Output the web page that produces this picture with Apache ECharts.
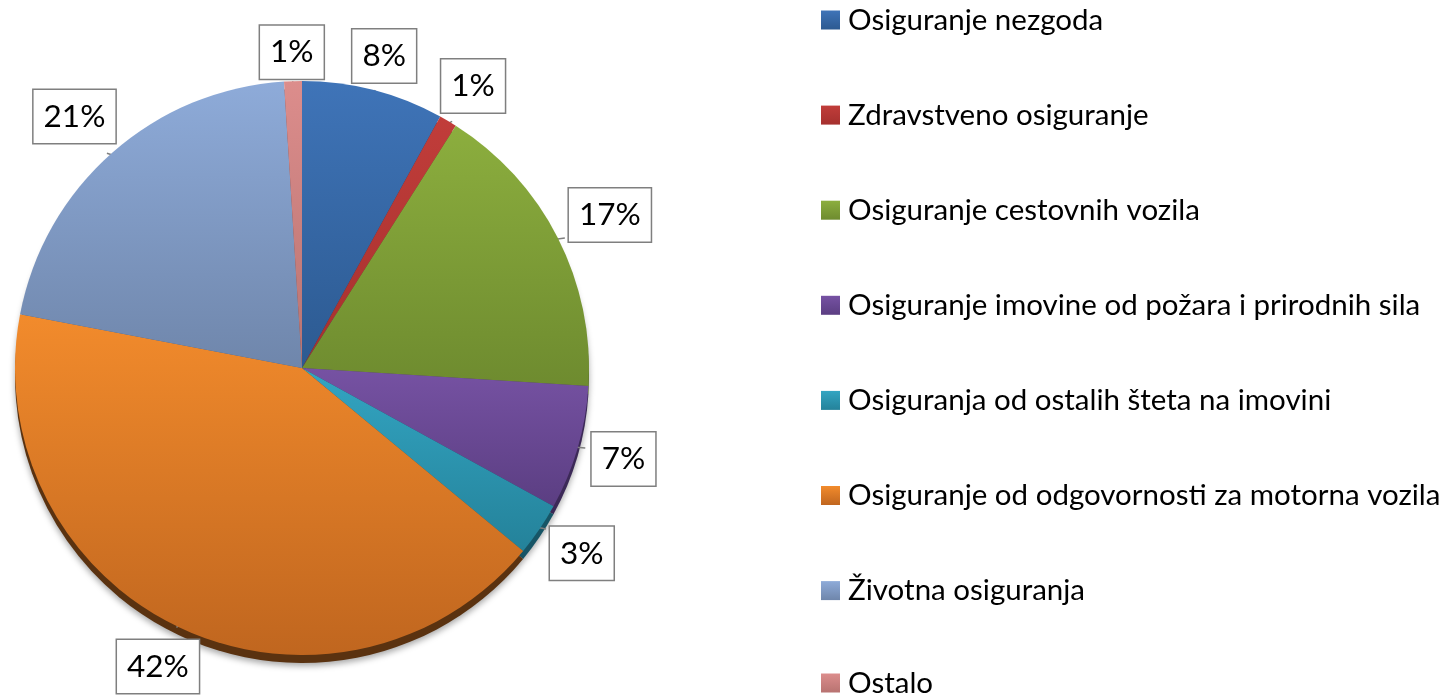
<!DOCTYPE html>
<html>
<head>
<meta charset="utf-8">
<script src="https://cdn.jsdelivr.net/npm/echarts@6/dist/echarts.min.js"></script>
<style>
    html, body { margin:0; padding:0; background:#fff; }
    #chart { width:1448px; height:699px; }
</style>
</head>
<body>
<div id="chart"></div>
<script>
const categories = [
    'Osiguranje nezgoda',
    'Zdravstveno osiguranje',
    'Osiguranje cestovnih vozila',
    'Osiguranje imovine od požara i prirodnih sila',
    'Osiguranja od ostalih šteta na imovini',
    'Osiguranje od odgovornosti za motorna vozila',
    'Životna osiguranja',
    'Ostalo'
];
const shares = [8, 1, 17, 7, 3, 42, 21, 1];
// light / dark end of each slice gradient, plus the darker 3d rim
const topColors = ['#3f74b8','#c13d3a','#8cae3e','#7652a3','#33a5c2','#f28b2c','#8eabd9','#dc8d8c'];
const bottomColors = ['#2c5a91','#a5302e','#6e8b2f','#5b3e82','#24829a','#c0661f','#6f86ab','#b87371'];
const sideColors = ['#1f3d63','#6e1f1e','#4a5e1f','#3c2957','#175566','#5a3210','#4a5a73','#7a4b4a'];

const CX = 302, CY = 368, R = 287;
const total = shares.reduce((a, b) => a + b, 0);
const midAngles = [];
let acc = 0;
shares.forEach(v => {
    midAngles.push((acc + v / 2) / total * Math.PI * 2);
    acc += v;
});

const chart = echarts.init(document.getElementById('chart'));

const mainData = categories.map((name, i) => ({
    name: name,
    value: shares[i],
    itemStyle: {
        color: new echarts.graphic.LinearGradient(0, 0, 0, 1, [
            { offset: 0, color: topColors[i] },
            { offset: 1, color: bottomColors[i] }
        ])
    }
}));
const sideData = categories.map((name, i) => ({
    name: name,
    value: shares[i],
    itemStyle: { color: sideColors[i] }
}));

// callout boxes sit just outside the rim, on the slice's middle angle
// (vertical squeezed a bit, like the tilted pie in the original)
function placeLabel(params) {
    const a = midAngles[params.dataIndex];
    const sx = Math.sin(a), sy = -Math.cos(a);
    const w = params.labelRect.width, h = params.labelRect.height;
    const ext = Math.abs(w / 2 * sx) + Math.abs(h / 2 * sy);
    const d = R + 8 + ext;
    const k = 0.975;
    const bx = CX + d * sx, by = CY + d * sy * k;
    const ex = CX + (R - 4) * sx, ey = CY + (R - 4) * sy;
    const tx = bx - ext * sx, ty = by - ext * sy;
    return {
        x: bx,
        y: by,
        align: 'center',
        verticalAlign: 'middle',
        labelLinePoints: [[ex, ey], [(ex + tx) / 2, (ey + ty) / 2], [tx, ty]]
    };
}

// one column of legend entries; the last one gets its own legend so it isn't wrapped away
const legendBase = {
    orient: 'vertical',
    left: 821,
    padding: 0,
    itemWidth: 19,
    itemHeight: 19,
    itemGap: 65.1,
    icon: 'rect',
    selectedMode: false,
    textStyle: {
        fontFamily: 'Lato',
        fontSize: 29.5,
        color: '#000',
        padding: [0, 0, 0, 3]
    }
};

const option = {
    animation: false,
    legend: [
        Object.assign({}, legendBase, { top: 5, data: categories.slice(0, 7) }),
        Object.assign({}, legendBase, { top: 668, data: categories.slice(7) })
    ],
    series: [
        {
            type: 'pie',
            z: 2,
            center: [CX, CY],
            radius: R,
            startAngle: 90,
            itemStyle: { borderWidth: 0 },
            label: {
                show: true,
                position: 'outside',
                overflow: 'none',
                bleedMargin: 0,
                formatter: '{c}%',
                fontFamily: 'Lato',
                fontSize: 31.5,
                lineHeight: 34,
                color: '#000',
                backgroundColor: '#fff',
                borderColor: '#7f7f7f',
                borderWidth: 1.5,
                padding: [10, 10, 9, 10]
            },
            labelLine: {
                show: true,
                length: 0,
                length2: 0,
                lineStyle: { color: '#7f7f7f', width: 1.5 }
            },
            labelLayout: placeLabel,
            data: mainData
        },
        {
            type: 'pie',
            silent: true,
            z: 1,
            center: [CX, CY + 8],
            radius: R,
            startAngle: 90,
            label: { show: false },
            labelLine: { show: false },
            itemStyle: {
                shadowBlur: 6,
                shadowColor: 'rgba(0,0,0,0.35)',
                shadowOffsetY: 3
            },
            data: sideData
        }
    ]
};
chart.setOption(option);
</script>
</body>
</html>
